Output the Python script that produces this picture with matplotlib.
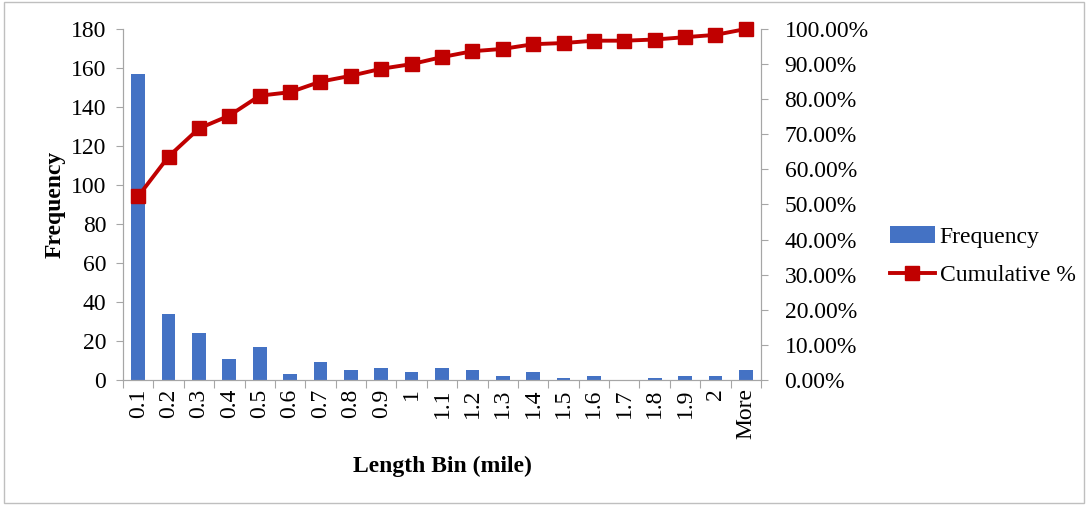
import numpy as np
import matplotlib.pyplot as plt
from matplotlib.patches import Patch
from matplotlib.lines import Line2D

plt.rcParams['font.family'] = ['Liberation Serif', 'DejaVu Serif']

# length bins (mile)
bins = ['0.1', '0.2', '0.3', '0.4', '0.5', '0.6', '0.7', '0.8', '0.9', '1',
        '1.1', '1.2', '1.3', '1.4', '1.5', '1.6', '1.7', '1.8', '1.9', '2', 'More']
frequency = [157, 34, 24, 11, 17, 3, 9, 5, 6, 4, 6, 5, 2, 4, 1, 2, 0, 1, 2, 2, 5]
cumulative_pct = [52.33, 63.67, 71.67, 75.33, 81.00, 82.00, 85.00, 86.67, 88.67, 90.00,
                  92.00, 93.67, 94.33, 95.67, 96.00, 96.67, 96.67, 97.00, 97.67, 98.33, 100.00]

bar_color = '#4472C4'
line_color = '#C00000'
axis_gray = '#A6A6A6'
fs = 17

fig = plt.figure(figsize=(10.88, 5.05), dpi=100)
ax = fig.add_axes([123 / 1088, 1 - 380 / 505, (761 - 123) / 1088, (380 - 29) / 505])
ax2 = ax.twinx()

x = np.arange(len(bins))
ax.bar(x, frequency, width=0.45, color=bar_color, zorder=2)
ax2.plot(x, cumulative_pct, color=line_color, linewidth=2.8, marker='s',
         markersize=10, zorder=3, clip_on=False)

ax.set_xlim(-0.5, len(bins) - 0.5)
ax.set_ylim(0, 180)
ax.set_yticks(np.arange(0, 181, 20))
ax2.set_ylim(0, 100)
ax2.set_yticks(np.arange(0, 101, 10))
ax2.set_yticklabels([f'{v:.2f}%' for v in np.arange(0, 101, 10)])

# category ticks between bins, labels centred on the bins
ax.set_xticks(np.arange(-0.5, len(bins), 1.0))
ax.set_xticklabels([])
ax.set_xticks(x, minor=True)
ax.set_xticklabels(bins, minor=True, rotation=90)
ax.tick_params(axis='x', which='minor', length=0, labelsize=fs, pad=6)
ax.tick_params(axis='x', which='major', length=6, color=axis_gray, direction='out')
ax.tick_params(axis='y', labelsize=fs, length=5, color=axis_gray, pad=7)
ax2.tick_params(axis='y', labelsize=fs, length=5, color=axis_gray, pad=12)

for a in (ax, ax2):
    a.spines['top'].set_visible(False)
    for s in ('left', 'right', 'bottom'):
        a.spines[s].set_color(axis_gray)

ax.set_ylabel('Frequency', fontsize=fs, fontweight='bold', labelpad=4)
ax.set_xlabel('Length Bin (mile)', fontsize=fs, fontweight='bold', labelpad=12)

handles = [Patch(facecolor=bar_color, edgecolor='none'),
           Line2D([0], [0], color=line_color, linewidth=2.8, marker='s', markersize=10)]
fig.legend(handles, ['Frequency', 'Cumulative %'], loc='center left',
           bbox_to_anchor=(890 / 1088, 1 - 256 / 505), frameon=False, fontsize=fs,
           borderpad=0, borderaxespad=0, handlelength=1.9, handletextpad=0.2,
           labelspacing=0.7)

# thin border around the whole chart
fig.patches.append(plt.Rectangle((0.004, 0.004), 0.992, 0.992, transform=fig.transFigure,
                                 fill=False, edgecolor='#BFBFBF', linewidth=1))

fig.savefig('out.png', dpi=100)
